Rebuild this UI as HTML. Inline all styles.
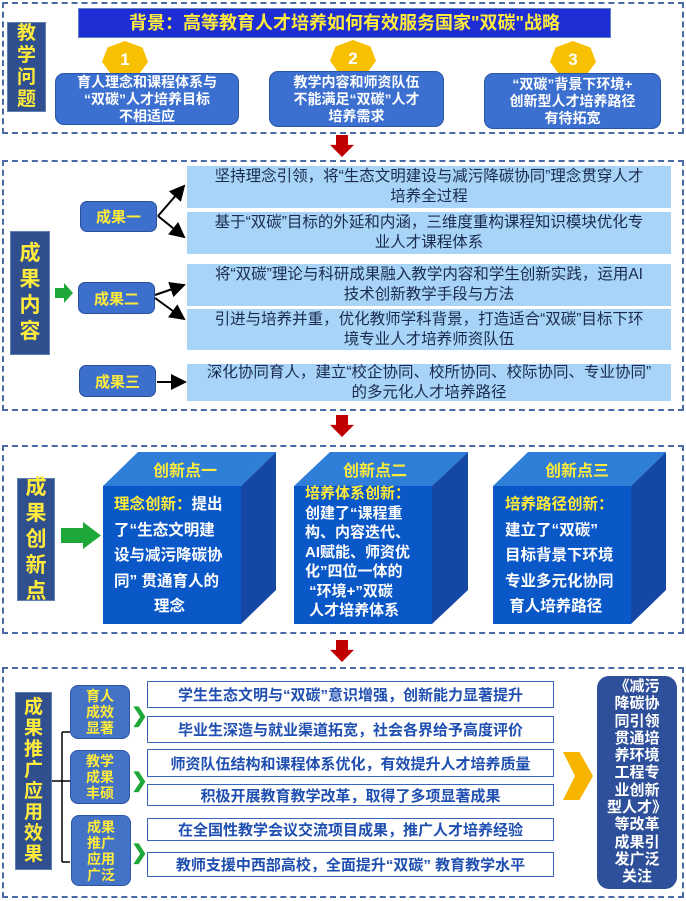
<!DOCTYPE html><html><head><meta charset="utf-8"><style>
body{margin:0;width:686px;height:901px;background:#fff;position:relative;overflow:hidden;font-family:"Liberation Sans","Noto Sans CJK SC",sans-serif;font-weight:bold}
div{position:absolute;box-sizing:border-box}
.sec{border:2px dashed #4a6aa8}
.lab{background:#2f4f8f;border:1px solid #6080b0;color:#ffeb3b;font-size:21px;line-height:26px;text-align:center;display:flex;align-items:center;justify-content:center}
.rb{background:#3b6fd0;color:#fff;border-radius:9px;font-size:14px;line-height:17px;text-align:center;display:flex;align-items:center;justify-content:center;border:1px solid #2a55a8}
.hept{width:46px;height:36px;background:#f7c000;clip-path:polygon(50% 0,88% 18%,100% 58%,76% 100%,24% 100%,0 58%,12% 18%);color:#fff;font-size:17px;text-align:center;line-height:38px}
.cg{background:#3d6fcc;color:#ffeb3b;border-radius:7px;border:1px solid #28509c;font-size:15px;display:flex;align-items:center;justify-content:center}
.lb{background:#a8d5f7;color:#1a2a50;font-size:15.5px;line-height:20px;text-align:center;display:flex;align-items:center;justify-content:center;font-weight:normal;padding:0 4px;white-space:nowrap}
.red{width:24px;height:22px;background:#c00000;clip-path:polygon(25% 0,75% 0,75% 45%,100% 45%,50% 100%,0 45%,25% 45%)}
.wb{background:#fff;border:1.5px solid #3a66b8;color:#1f4fb0;font-size:15px;text-align:center;display:flex;align-items:center;justify-content:center;white-space:nowrap}
.gb{background:#4472c4;color:#ffeb3b;border-radius:8px;font-size:14px;line-height:16px;text-align:center;display:flex;align-items:center;justify-content:center;border:1px solid #2a55a8}
.ft{color:#fff;font-size:15.5px;white-space:nowrap}
</style></head><body>
<div class="sec" style="left:2px;top:2px;width:682px;height:132px"></div>
<div style="left:78px;top:8px;width:533px;height:30px;background:#1d2fd4;border:1px solid #6080c0;color:#ffeb3b;font-size:18px;line-height:28px;text-align:center">背景：高等教育人才培养如何有效服务国家"双碳"战略</div>
<div class="lab" style="left:7px;top:22px;width:39px;height:90px;font-size:19px;line-height:22px">教<br>学<br>问<br>题</div>
<div class="hept" style="left:102px;top:41px">1</div>
<div class="hept" style="left:330px;top:40px">2</div>
<div class="hept" style="left:550px;top:41px">3</div>
<div class="rb" style="left:55px;top:73px;width:184px;height:52px">育人理念和课程体系与<br>“双碳”人才培养目标<br>不相适应</div>
<div class="rb" style="left:269px;top:71px;width:175px;height:56px">教学内容和师资队伍<br>不能满足“双碳”人才<br>培养需求</div>
<div class="rb" style="left:484px;top:73px;width:177px;height:56px">“双碳”背景下环境+<br>创新型人才培养路径<br>有待拓宽</div>
<div class="red" style="left:330px;top:135px"></div>
<div class="sec" style="left:2px;top:160px;width:682px;height:251px"></div>
<div class="lab" style="left:10px;top:231px;width:40px;height:124px">成<br>果<br>内<br>容</div>
<div style="left:55px;top:283px;width:18px;height:20px;background:#1fa83a;clip-path:polygon(0 25%,50% 25%,50% 0,100% 50%,50% 100%,50% 75%,0 75%)"></div>
<div class="cg" style="left:80px;top:201px;width:77px;height:31px">成果一</div>
<div class="cg" style="left:78px;top:282px;width:77px;height:32px">成果二</div>
<div class="cg" style="left:79px;top:365px;width:77px;height:32px">成果三</div>
<div class="lb" style="left:187px;top:166px;width:484px;height:42px">坚持理念引领，将“生态文明建设与减污降碳协同”理念贯穿人才<br>培养全过程</div>
<div class="lb" style="left:187px;top:212px;width:484px;height:42px">基于“双碳”目标的外延和内涵，三维度重构课程知识模块优化专<br>业人才课程体系</div>
<div class="lb" style="left:187px;top:264px;width:484px;height:42px">将“双碳”理论与科研成果融入教学内容和学生创新实践，运用AI<br>技术创新教学手段与方法</div>
<div class="lb" style="left:187px;top:309px;width:484px;height:41px">引进与培养并重，优化教师学科背景，打造适合“双碳”目标下环<br>境专业人才培养师资队伍</div>
<div class="lb" style="left:187px;top:364px;width:484px;height:37px">深化协同育人，建立“校企协同、校所协同、校际协同、专业协同”<br>的多元化人才培养路径</div>
<svg style="position:absolute;left:0;top:0" width="686" height="901"><defs><marker id="a" markerWidth="8" markerHeight="8" refX="7" refY="4" orient="auto"><path d="M0,0L8,4L0,8z" fill="#000"/></marker></defs>
<g stroke="#000" stroke-width="2" marker-end="url(#a)"><line x1="158" y1="216" x2="184" y2="186"/><line x1="158" y1="216" x2="184" y2="237"/><line x1="155" y1="295" x2="184" y2="285"/><line x1="155" y1="298" x2="184" y2="319"/><line x1="157" y1="382" x2="185" y2="382"/></g>
<g stroke="#000" stroke-width="1.5" fill="none"><path d="M52,781H62M62,732V862M62,732H70M62,781H70M62,862H70"/></g></svg>
<div class="red" style="left:330px;top:415px"></div>
<div class="sec" style="left:2px;top:445px;width:682px;height:189px"></div>
<div class="lab" style="left:17px;top:478px;width:38px;height:123px">成<br>果<br>创<br>新<br>点</div>
<div style="left:61px;top:522px;width:40px;height:27px;background:#1fa83a;clip-path:polygon(0 22%,55% 22%,55% 0,100% 50%,55% 100%,55% 78%,0 78%)"></div>
<svg style="position:absolute;left:0;top:0" width="686" height="901">
<g><polygon points="103,486 138,452 276,452 241,486" fill="#2f7fd8"/><polygon points="241,486 276,452 276,590 241,624" fill="#1547a6"/><rect x="103" y="486" width="138" height="138" fill="#0a57c8"/>
<polygon points="294,486 330,452 468,452 432,486" fill="#2f7fd8"/><polygon points="432,486 468,452 468,590 432,624" fill="#1547a6"/><rect x="294" y="486" width="138" height="138" fill="#0a57c8"/>
<polygon points="493,486 528,452 666,452 631,486" fill="#2f7fd8"/><polygon points="631,486 666,452 666,590 631,624" fill="#1547a6"/><rect x="493" y="486" width="138" height="138" fill="#0a57c8"/></g>
<g font-size="16" fill="#ffeb3b" font-weight="bold" font-family="Liberation Sans,Noto Sans CJK SC,sans-serif"><text x="153" y="476">创新点一</text><text x="343" y="476">创新点二</text><text x="545" y="476">创新点三</text></g></svg>
<div class="ft" style="left:114px;top:492px;line-height:25.5px"><span style="color:#ffeb3b">理念创新：</span>提出<br>了“生态文明建<br>设与减污降碳协<br>同” 贯通育人的<br><span style="padding-left:40px">理念</span></div>
<div class="ft" style="left:305px;top:484px;line-height:19.5px;font-size:15px"><span style="color:#ffeb3b">培养体系创新：</span><br>创建了“课程重<br>构、内容迭代、<br>AI赋能、师资优<br>化”四位一体的<br>&nbsp;“环境+”双碳<br>&nbsp;人才培养体系</div>
<div class="ft" style="left:505px;top:492px;line-height:25.5px"><span style="color:#ffeb3b">培养路径创新：</span><br>建立了“双碳”<br>目标背景下环境<br>专业多元化协同<br>&nbsp;育人培养路径</div>
<div class="red" style="left:330px;top:640px"></div>
<div class="sec" style="left:2px;top:667px;width:682px;height:231px"></div>
<div class="lab" style="left:15px;top:692px;width:37px;height:178px;font-size:19px;line-height:21px">成<br>果<br>推<br>广<br>应<br>用<br>效<br>果</div>
<div class="gb" style="left:70px;top:685px;width:60px;height:54px">育人<br>成效<br>显著</div>
<div class="gb" style="left:70px;top:750px;width:60px;height:54px">教学<br>成果<br>丰硕</div>
<div class="gb" style="left:71px;top:815px;width:60px;height:71px">成果<br>推广<br>应用<br>广泛</div>
<div style="left:131px;top:703px;color:#1fa83a;font-size:20px">❯</div>
<div style="left:131px;top:768px;color:#1fa83a;font-size:20px">❯</div>
<div style="left:131px;top:840px;color:#1fa83a;font-size:20px">❯</div>
<div class="wb" style="left:147px;top:681px;width:407px;height:27px">学生生态文明与“双碳”意识增强，创新能力显著提升</div>
<div class="wb" style="left:147px;top:716px;width:407px;height:27px">毕业生深造与就业渠道拓宽，社会各界给予高度评价</div>
<div class="wb" style="left:147px;top:749px;width:407px;height:28px">师资队伍结构和课程体系优化，有效提升人才培养质量</div>
<div class="wb" style="left:147px;top:784px;width:407px;height:22px">积极开展教育教学改革，取得了多项显著成果</div>
<div class="wb" style="left:147px;top:818px;width:407px;height:23px">在全国性教学会议交流项目成果，推广人才培养经验</div>
<div class="wb" style="left:147px;top:852px;width:407px;height:25px">教师支援中西部高校，全面提升“双碳” 教育教学水平</div>
<div style="left:563px;top:752px;width:30px;height:48px;background:#f7b500;clip-path:polygon(0 0,55% 0,100% 50%,55% 100%,0 100%,40% 50%)"></div>
<div style="left:597px;top:676px;width:80px;height:213px;background:#2e4f9a;border-radius:12px;color:#fff;font-size:15px;line-height:17.3px;text-align:center;padding-top:2px">《减污<br>降碳协<br>同引领<br>贯通培<br>养环境<br>工程专<br>业创新<br>型人才》<br>等改革<br>成果引<br>发广泛<br>关注</div>
</body></html>
